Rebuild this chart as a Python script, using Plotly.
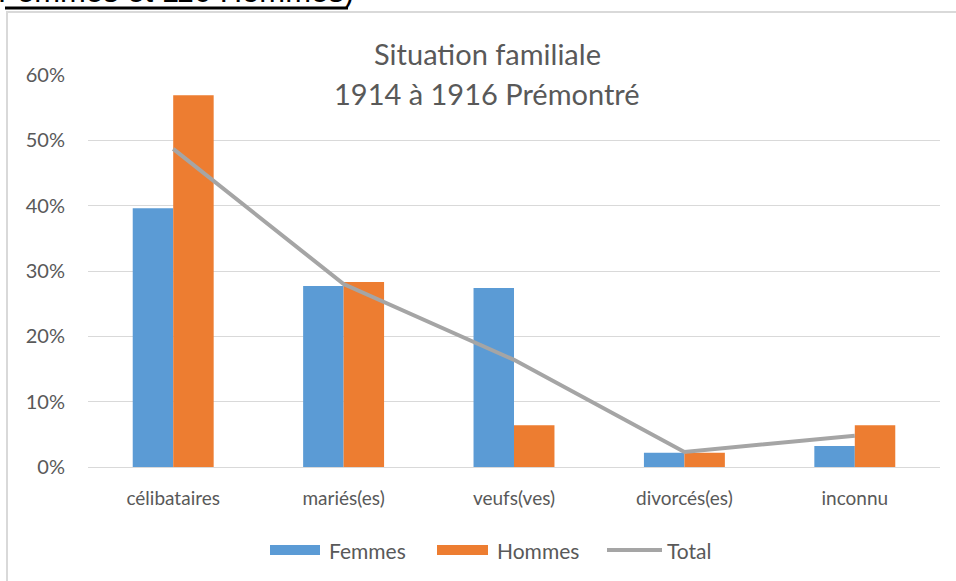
import plotly.graph_objects as go

categories = ["célibataires", "mariés(es)", "veufs(ves)", "divorcés(es)", "inconnu"]
femmes = [0.396, 0.277, 0.274, 0.022, 0.032]
hommes = [0.569, 0.283, 0.064, 0.022, 0.064]
total = [0.487, 0.280, 0.164, 0.023, 0.048]
y_ticks = [0, 0.1, 0.2, 0.3, 0.4, 0.5, 0.6]
y_tick_labels = ["0%", "10%", "20%", "30%", "40%", "50%", "60%"]

FONT = "Lato, 'Open Sans', sans-serif"
GREY_TXT = "#595959"
C_F, C_H, C_T = "#5B9BD5", "#ED7D31", "#A5A5A5"

W, H = 956, 581
ML, MR, MT, MB = 88, 16, 75, 114
PW = W - ML - MR
PH = H - MT - MB


def px_x(x):
    return (x - ML) / PW


def px_y(y):
    return (H - MB - y) / PH


fig = go.Figure()
fig.add_trace(go.Bar(x=categories, y=femmes, name="Femmes", marker=dict(color=C_F, line=dict(width=0))))
fig.add_trace(go.Bar(x=categories, y=hommes, name="Hommes", marker=dict(color=C_H, line=dict(width=0))))
fig.add_trace(go.Scatter(x=categories, y=total, name="Total", mode="lines",
                         line=dict(color=C_T, width=4)))

# legend drawn as swatches + labels to mimic the wide Excel-style keys
legend_items = [("Femmes", C_F, "rect", 270, 320, 327),
                ("Hommes", C_H, "rect", 437, 488, 495),
                ("Total", C_T, "line", 607, 662, 665)]
LEG_Y = 550
shapes = [
    dict(type="rect", xref="paper", yref="paper",
         x0=px_x(7), x1=px_x(975), y0=px_y(600), y1=px_y(12),
         line=dict(color="#D9D9D9", width=2), fillcolor="rgba(0,0,0,0)", layer="below"),
    # underline of the (cropped) document text above the chart
    dict(type="line", xref="paper", yref="paper",
         x0=px_x(5), x1=px_x(348), y0=px_y(8), y1=px_y(8),
         line=dict(color="black", width=3)),
]
annotations = [
    dict(text="Situation familiale", xref="paper", yref="paper", x=px_x(487), y=px_y(53),
         xanchor="center", yanchor="middle", showarrow=False,
         font=dict(size=29, color=GREY_TXT, family=FONT)),
    dict(text="1914 à 1916 Prémontré", xref="paper", yref="paper", x=px_x(487), y=px_y(94),
         xanchor="center", yanchor="middle", showarrow=False,
         font=dict(size=29, color=GREY_TXT, family=FONT)),
    dict(text="Femmes et 116 Hommes)", xref="paper", yref="paper", x=px_x(-4), y=px_y(10.5),
         xanchor="left", yanchor="bottom", showarrow=False,
         font=dict(size=31, color="black", family="'Liberation Sans', sans-serif")),
]
for name, col, kind, x0, x1, xt in legend_items:
    if kind == "rect":
        shapes.append(dict(type="rect", xref="paper", yref="paper",
                           x0=px_x(x0), x1=px_x(x1), y0=px_y(LEG_Y + 5), y1=px_y(LEG_Y - 5),
                           line=dict(width=0), fillcolor=col))
    else:
        shapes.append(dict(type="line", xref="paper", yref="paper",
                           x0=px_x(x0), x1=px_x(x1), y0=px_y(LEG_Y), y1=px_y(LEG_Y),
                           line=dict(color=col, width=4)))
    annotations.append(dict(text=name, xref="paper", yref="paper", x=px_x(xt), y=px_y(LEG_Y),
                            xanchor="left", yanchor="middle", showarrow=False,
                            font=dict(size=21, color=GREY_TXT, family=FONT)))

fig.update_layout(
    width=W, height=H,
    margin=dict(l=ML, r=MR, t=MT, b=MB),
    paper_bgcolor="white", plot_bgcolor="white",
    barmode="group", bargap=0.525, bargroupgap=0,
    font=dict(family=FONT, color=GREY_TXT, size=19),
    showlegend=False,
    xaxis=dict(showgrid=False, showline=True, linecolor="#D9D9D9", linewidth=1,
               ticks="", tickfont=dict(size=19, color=GREY_TXT), ticklabelstandoff=14),
    yaxis=dict(range=[0, 0.6], tickvals=y_ticks, ticktext=y_tick_labels,
               showgrid=True, gridcolor="#D9D9D9", gridwidth=1, zeroline=False,
               showline=False, ticks="", ticklabelstandoff=22,
               tickfont=dict(size=20, color=GREY_TXT)),
    annotations=annotations,
    shapes=shapes,
)

fig.write_html("out.html", config={"displayModeBar": False},
               post_script="document.body.style.margin='0';document.body.style.overflow='hidden';")
